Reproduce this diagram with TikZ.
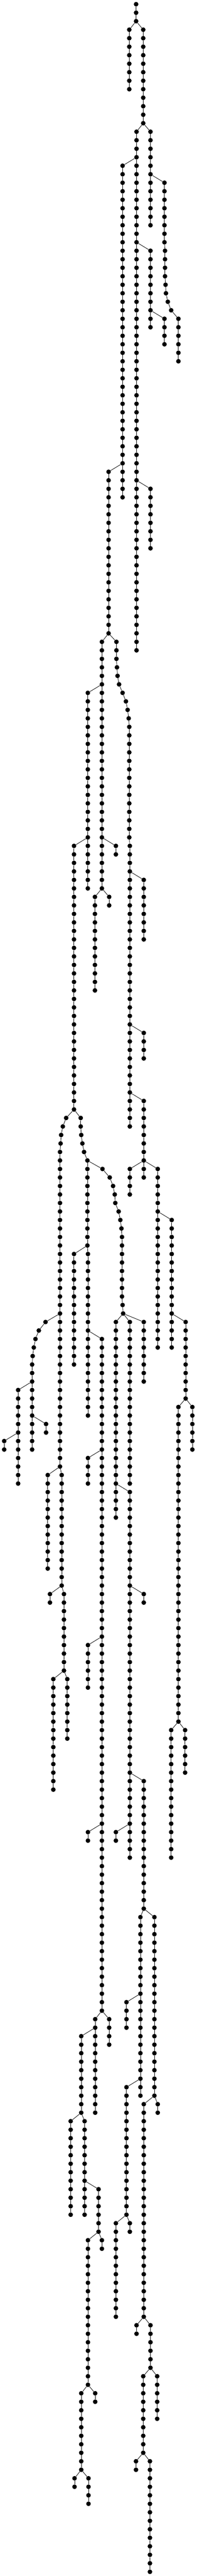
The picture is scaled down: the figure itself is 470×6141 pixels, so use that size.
\documentclass[tikz,border=0pt]{standalone}
\usetikzlibrary{positioning}
\tikzstyle{dot}=[circle, fill=black, draw=none, minimum size=11pt, inner sep=0pt]
\tikzstyle{pline}=[-, line width=1pt]
\newcommand{\mkcol}[4]{\foreach \r in {#3,...,#4} {\node[dot] (#1-\r) at (#2,\r) {};}}
\newcommand{\mkstem}[3]{\pgfmathtruncatemacro{\rs}{#2+1}%
  \foreach \r in {\rs,...,#3} {\pgfmathtruncatemacro{\rp}{\r-1}\draw[pline] (#1-\rp) -- (#1-\r);}}
\begin{document}
\begin{tikzpicture}[x=1pt, y=-20.268pt]
\useasboundingbox (0pt,10pt) rectangle (470pt,-6131pt);

\mkcol{A}{325}{0}{2}
\mkcol{B}{308.7}{3}{10}
\mkcol{C}{342}{3}{14}
\mkcol{D}{326}{15}{76}
\mkcol{E}{359.3}{15}{26}
\mkcol{F}{292.7}{19}{58}
\mkcol{G}{392.7}{21}{28}
\foreach \r/\x in {29/394,30/394,31/394,32/394,33/395.3,34/396.3,35/400.7,36/408.7} \node[dot] (G-\r) at (\x,\r) {};
\mkcol{G}{426}{37}{42}
\mkcol{H}{359.3}{29}{38}
\mkcol{I}{392.7}{37}{40}
\mkcol{K}{259.3}{55}{74}
\mkcol{J}{359.3}{57}{64}
\mkcol{L}{243.3}{75}{104}
\mkcol{M}{278}{75}{77}
\foreach \r/\x in {78/279.3,79/280.7,80/284.3,81/292.7,82/300.7,83/304.7,84/307.3} \node[dot] (M-\r) at (\x,\r) {};
\mkcol{M}{308.7}{85}{98}
\mkcol{M}{310}{99}{132}
\mkcol{N}{209.7}{81}{104}
\mkcol{O}{176.7}{99}{130}
\mkcol{R}{276.7}{99}{100}
\mkcol{P}{226.7}{105}{116}
\mkcol{Q}{260.7}{105}{106}
\mkcol{S}{343.3}{103}{110}
\mkcol{T}{343.3}{121}{124}
\mkcol{Y}{343.3}{129}{138}
\foreach \r/\x in {131/158,132/150,133/146,134/144.7} \node[dot] (U-\r) at (\x,\r) {};
\mkcol{U}{143.3}{135}{172}
\mkcol{U}{147.3}{173}{186}
\mkcol{U}{152.7}{187}{196}
\mkcol{U}{160.7}{197}{204}
\foreach \r/\x in {131/192.7,132/192.7,133/194,134/196.7,135/200.7} \node[dot] (V-\r) at (\x,\r) {};
\mkcol{V}{208.7}{136}{146}
\mkcol{V}{210}{147}{166}
\foreach \r/\x in {137/244.7,138/262,139/270,140/274,141/275.3,142/283.3,143/287.3,144/290} \node[dot] (W-\r) at (\x,\r) {};
\mkcol{W}{291.3}{145}{152}
\foreach \r/\x in {153/292.7,154/294} \node[dot] (W-\r) at (\x,\r) {};
\mkcol{X}{176.7}{147}{160}
\mkcol{YL}{310}{137}{140}
\mkcol{YR}{376.7}{137}{158}
\mkcol{AA}{410}{143}{158}
\foreach \r/\x in {155/108.7,156/92.7,157/84.7,158/80.7,159/78} \node[dot] (BB-\r) at (\x,\r) {};
\mkcol{BB}{76.7}{160}{170}
\mkcol{DD}{43.3}{163}{174}
\mkcol{EE}{110}{167}{168}
\mkcol{FF}{10}{169}{170}
\mkcol{GG}{243.3}{157}{236}
\mkcol{GG}{227.3}{237}{248}
\mkcol{HH}{210}{171}{174}
\mkcol{II}{276.7}{155}{178}
\mkcol{KK}{310}{155}{174}
\mkcol{LL}{343.3}{155}{162}
\mkcol{MM}{443.3}{155}{164}
\mkcol{NN}{426}{165}{202}
\mkcol{OO}{459.3}{165}{170}
\mkcol{CC}{114}{173}{184}
\mkcol{JJ}{310}{175}{218}
\mkcol{PP}{119.3}{187}{188}
\mkcol{SS}{127.3}{197}{210}
\mkcol{QQ}{210}{193}{198}
\mkcol{RR}{343.3}{187}{188}
\mkcol{TT}{210}{215}{216}
\mkcol{VV}{276.7}{215}{216}
\mkcol{UU}{343.3}{209}{224}
\mkcol{WW}{408.7}{203}{218}
\mkcol{XX}{442}{203}{208}
\mkcol{UL}{335.3}{225}{246}
\mkcol{UR}{368.7}{225}{246}
\mkcol{YY}{260.7}{237}{240}
\mkcol{ZZ}{194}{239}{248}
\mkcol{AB}{302}{235}{238}
\mkcol{AC}{302}{245}{260}
\mkcol{AD}{343.3}{247}{272}
\mkcol{AE}{376.7}{247}{248}
\mkcol{ZL}{168.7}{249}{260}
\mkcol{ZR}{202}{249}{260}
\mkcol{AF}{235.3}{257}{262}
\mkcol{AG}{243.3}{263}{264}
\mkcol{AH}{210}{263}{280}
\mkcol{AI}{310}{261}{262}
\mkcol{AJ}{276.7}{261}{272}
\mkcol{AK}{326}{273}{274}
\mkcol{AL}{359.3}{273}{278}
\mkcol{AM}{227.3}{281}{282}
\mkcol{AN}{194}{281}{290}
\mkcol{AO}{178}{291}{292}
\mkcol{AP}{211.3}{291}{294}
\mkcol{AQ}{375.3}{279}{284}
\mkcol{AR}{342}{279}{288}
\mkcol{AS}{324.7}{289}{290}
\mkcol{AT}{358}{289}{302}

% chains
\foreach \n/\a/\b in {A/0/2,B/3/10,C/3/14,D/15/76,E/15/26,F/19/58,G/21/42,H/29/38,I/37/40,
  K/55/74,J/57/64,L/75/104,M/75/132,N/81/104,O/99/130,R/99/100,P/105/116,Q/105/106,
  S/103/110,T/121/124,Y/129/138,U/131/204,V/131/166,W/137/154,X/147/160,YL/137/140,
  YR/137/158,AA/143/158,BB/155/170,DD/163/174,EE/167/168,FF/169/170,GG/157/248,
  HH/171/174,II/155/178,KK/155/174,LL/155/162,MM/155/164,NN/165/202,OO/165/170,
  CC/173/184,JJ/175/218,PP/187/188,SS/197/210,QQ/193/198,RR/187/188,TT/215/216,
  VV/215/216,UU/209/224,WW/203/218,XX/203/208,UL/225/246,UR/225/246,YY/237/240,
  ZZ/239/248,AB/235/238,AC/245/260,AD/247/272,AE/247/248,ZL/249/260,ZR/249/260,
  AF/257/262,AG/263/264,AH/263/280,AI/261/262,AJ/261/272,AK/273/274,AL/273/278,
  AM/281/282,AN/281/290,AO/291/292,AP/291/294,AQ/279/284,AR/279/288,AS/289/290,
  AT/289/302} {\mkstem{\n}{\a}{\b}}

% forks
\foreach \p/\c in {A-2/B-3,A-2/C-3,C-14/D-15,C-14/E-15,D-18/F-19,E-20/G-21,D-28/H-29,
  H-36/I-37,F-54/K-55,D-56/J-57,K-74/L-75,K-74/M-75,L-80/N-81,N-98/O-99,L-98/R-99,
  L-104/P-105,L-104/Q-105,M-102/S-103,M-120/T-121,M-128/Y-129,O-130/U-131,O-130/V-131,
  V-136/W-137,V-146/X-147,Y-136/YL-137,Y-136/YR-137,YR-142/AA-143,U-154/BB-155,
  BB-162/DD-163,BB-166/EE-167,DD-168/FF-169,V-156/GG-157,GG-170/HH-171,W-154/II-155,
  W-154/KK-155,W-154/LL-155,AA-154/MM-155,MM-164/NN-165,MM-164/OO-165,U-172/CC-173,
  II-174/JJ-175,U-186/PP-187,U-196/SS-197,GG-192/QQ-193,JJ-186/RR-187,GG-214/TT-215,
  JJ-214/VV-215,JJ-208/UU-209,NN-202/WW-203,NN-202/XX-203,UU-224/UL-225,UU-224/UR-225,
  GG-236/YY-237,GG-238/ZZ-239,UL-234/AB-235,UL-244/AC-245,UR-246/AD-247,UR-246/AE-247,
  ZZ-248/ZL-249,ZZ-248/ZR-249,ZR-256/AF-257,AF-262/AG-263,AF-262/AH-263,AC-260/AI-261,
  AC-260/AJ-261,AD-272/AK-273,AD-272/AL-273,AH-280/AM-281,AH-280/AN-281,AN-290/AO-291,
  AN-290/AP-291,AL-278/AQ-279,AL-278/AR-279,AR-288/AS-289,AR-288/AT-289}
  \draw[pline] (\p) -- (\c);

\end{tikzpicture}
\end{document}
